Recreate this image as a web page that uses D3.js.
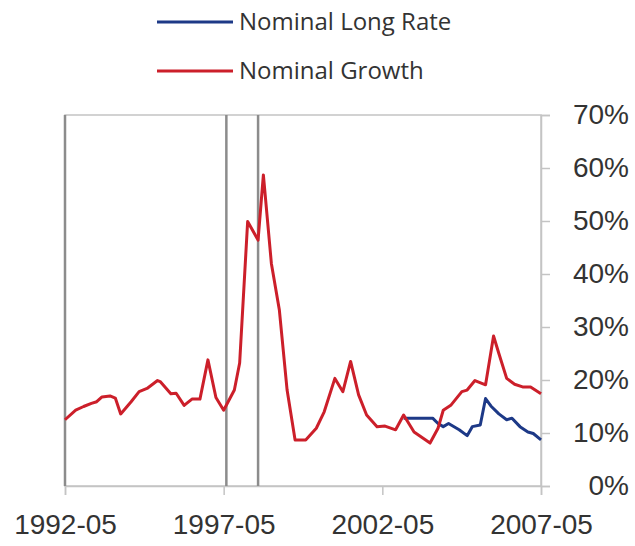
<!DOCTYPE html>
<html>
<head>
<meta charset="utf-8">
<script src="https://cdn.jsdelivr.net/npm/d3@7"></script>
<style>
  body { margin: 0; background: #fff; }
  svg { display: block; font-family: "Open Sans", sans-serif; }
</style>
</head>
<body>
<svg id="chart" width="635" height="546"></svg>
<script>
// nominal growth (y/y, %)
const growthDates = ["1992-05","1992-09","1992-12","1993-03","1993-05","1993-07","1993-10","1993-12",
  "1994-02","1994-06","1994-09","1994-12","1995-04","1995-05","1995-09","1995-11","1996-02","1996-05",
  "1996-08","1996-11","1997-02","1997-05","1997-09","1997-11","1998-02","1998-06","1998-08","1998-11",
  "1999-02","1999-05","1999-08","1999-12","2000-04","2000-07","2000-11","2001-02","2001-05","2001-08",
  "2001-11","2002-03","2002-06","2002-10","2003-01","2003-05","2003-11","2004-02","2004-04","2004-07",
  "2004-11","2005-01","2005-04","2005-08","2005-11","2006-01","2006-04","2006-07","2006-10","2007-01","2007-05"];
const growthValues = [12.5,14.3,15.0,15.6,15.9,16.8,17.0,16.6,
  13.6,15.9,17.8,18.4,19.9,19.7,17.4,17.5,15.2,16.4,
  16.4,23.8,16.7,14.3,18.1,23.2,49.9,46.4,58.7,42.0,
  33.2,18.1,8.7,8.7,10.9,14.0,20.3,17.8,23.5,17.2,
  13.4,11.2,11.3,10.6,13.4,10.2,8.1,10.9,14.3,15.3,
  17.8,18.1,19.9,19.1,28.3,25.0,20.3,19.2,18.7,18.7,17.4];

// nominal long rate (%)
const rateDates = ["2003-01","2003-12","2004-02","2004-04","2004-06","2004-10","2005-01","2005-03",
  "2005-06","2005-08","2005-10","2006-01","2006-04","2006-06","2006-09","2006-12","2007-02","2007-05"];
const rateValues = [12.8,12.8,11.8,11.2,11.8,10.6,9.5,11.2,
  11.5,16.5,15.1,13.6,12.5,12.8,11.2,10.2,9.9,8.7];

const markerDates = ["1992-05","1997-06","1998-06"];
const xTickDates = ["1992-05","1997-05","2002-05","2007-05"];
const yTicks = [0,10,20,30,40,50,60,70];

const parse = d3.timeParse("%Y-%m");
const fmt = d3.timeFormat("%Y-%m");

const growth = growthDates.map((d, i) => ({ date: parse(d), v: growthValues[i] }));
const rate = rateDates.map((d, i) => ({ date: parse(d), v: rateValues[i] }));

const svg = d3.select("#chart");
const plot = { left: 65, right: 541, top: 115, bottom: 486 };

const x = d3.scaleTime().domain([parse("1992-05"), parse("2007-05")]).range([plot.left, plot.right]);
const y = d3.scaleLinear().domain([0, 70]).range([plot.bottom, plot.top]);

const RED = "#cc1f2a", BLUE = "#1d3987", FRAME = "#c4c4c4";

// frame
svg.append("rect")
  .attr("x", plot.left).attr("y", plot.top)
  .attr("width", plot.right - plot.left).attr("height", plot.bottom - plot.top)
  .attr("fill", "none").attr("stroke", FRAME).attr("stroke-width", 1.5);

// right axis
const yAxis = svg.append("g")
  .attr("transform", `translate(${plot.right},0)`)
  .call(d3.axisRight(y).tickValues(yTicks).tickSize(9).tickFormat(d => d + "%"));
yAxis.select(".domain").attr("stroke", FRAME).attr("stroke-width", 1.5);
yAxis.selectAll(".tick line").attr("stroke", FRAME).attr("stroke-width", 1.5);
yAxis.selectAll(".tick text")
  .attr("x", 88).attr("text-anchor", "end")
  .attr("dy", "0.3em")
  .style("font-size", "28px").attr("fill", "#333");

// bottom axis
const xAxis = svg.append("g")
  .attr("transform", `translate(0,${plot.bottom})`)
  .call(d3.axisBottom(x).tickValues(xTickDates.map(parse)).tickSize(9).tickFormat(fmt));
xAxis.select(".domain").attr("stroke", FRAME).attr("stroke-width", 1.5);
xAxis.selectAll(".tick line").attr("stroke", FRAME).attr("stroke-width", 1.5);
xAxis.selectAll(".tick text")
  .attr("y", 28)
  .style("font-size", "28px").attr("fill", "#333");

// event markers
svg.selectAll(".marker")
  .data(markerDates.map(parse))
  .enter()
  .append("line")
  .attr("class", "marker")
  .attr("x1", d => x(d)).attr("x2", d => x(d))
  .attr("y1", plot.top).attr("y2", plot.bottom)
  .attr("stroke", "#8c8c8c").attr("stroke-width", 2.5);

const line = d3.line().x(d => x(d.date)).y(d => y(d.v));

svg.append("path").datum(rate)
  .attr("fill", "none").attr("stroke", BLUE).attr("stroke-width", 3)
  .attr("stroke-linejoin", "round").attr("d", line);

svg.append("path").datum(growth)
  .attr("fill", "none").attr("stroke", RED).attr("stroke-width", 3)
  .attr("stroke-linejoin", "round").attr("d", line);

// legend
const legend = [
  { label: "Nominal Long Rate", color: BLUE, y: 22 },
  { label: "Nominal Growth", color: RED, y: 71 },
];
const lg = svg.selectAll(".legend").data(legend).enter().append("g").attr("class", "legend");
lg.append("line")
  .attr("x1", 157).attr("x2", 233)
  .attr("y1", d => d.y).attr("y2", d => d.y)
  .attr("stroke", d => d.color).attr("stroke-width", 3);
lg.append("text")
  .attr("x", 239).attr("y", d => d.y)
  .attr("dy", "0.33em")
  .style("font-size", "24px").attr("fill", "#333")
  .text(d => d.label);
</script>
</body>
</html>
